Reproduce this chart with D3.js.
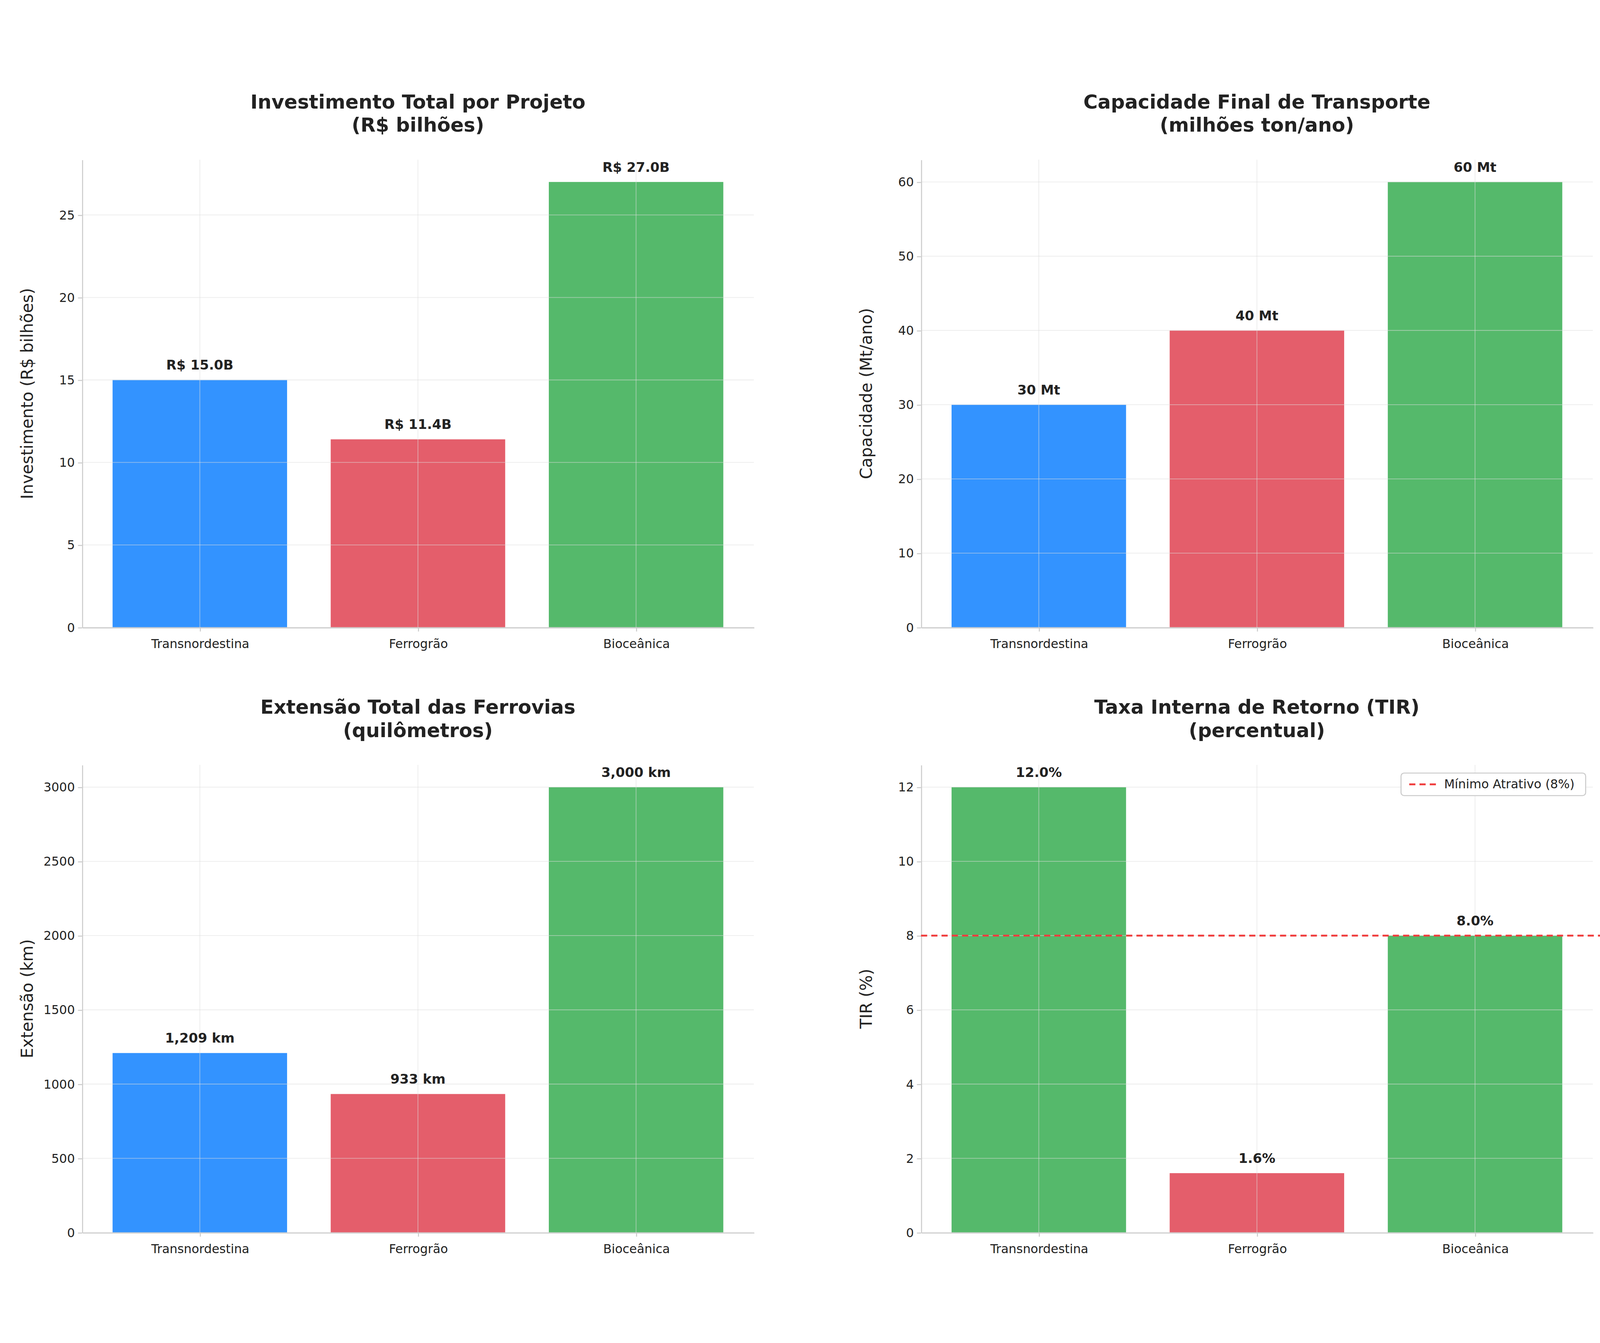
<!DOCTYPE html>
<html><head><meta charset="utf-8">
<script src="https://cdn.jsdelivr.net/npm/d3@7"></script>
<style>html,body{margin:0;width:100%;height:100%;overflow:hidden;background:#fff}svg{display:block}text{font-family:"DejaVu Sans",sans-serif;fill:#222}</style>
</head><body><svg id="chart"></svg>
<script>
const projects = ["Transnordestina", "Ferrogrão", "Bioceânica"];
const investment = [15.0, 11.4, 27.0];
const capacity = [30, 40, 60];
const lengthKm = [1209, 933, 3000];
const tir = [12.0, 1.6, 8.0];
const tirMin = 8;

const blue = "#3393ff", red = "#e45e6b", green = "#55b96b";

const panels = [
  { title: ["Investimento Total por Projeto", "(R$ bilhões)"], ylabel: "Investimento (R$ bilhões)",
    values: investment, ymax: 28.35, ticks: [0,5,10,15,20,25], colors: [blue, red, green],
    fmt: v => "R$ " + v.toFixed(1) + "B", x: 80, y: 80 },
  { title: ["Capacidade Final de Transporte", "(milhões ton/ano)"], ylabel: "Capacidade (Mt/ano)",
    values: capacity, ymax: 63, ticks: [0,10,20,30,40,50,60], colors: [blue, red, green],
    fmt: v => v + " Mt", x: 898, y: 80 },
  { title: ["Extensão Total das Ferrovias", "(quilômetros)"], ylabel: "Extensão (km)",
    values: lengthKm, ymax: 3150, ticks: [0,500,1000,1500,2000,2500,3000], colors: [blue, red, green],
    fmt: v => d3.format(",")(v) + " km", x: 80, y: 670 },
  { title: ["Taxa Interna de Retorno (TIR)", "(percentual)"], ylabel: "TIR (%)",
    values: tir, ymax: 12.6, ticks: [0,2,4,6,8,10,12], colors: tir.map(v => v >= tirMin ? green : red),
    fmt: v => v.toFixed(1) + "%", x: 898, y: 670, threshold: true }
];

const W = 1560, H = 1158, pw = 655, ph = 456;
const svg = d3.select("#chart").attr("width", "100%").attr("height", "100%")
  .attr("viewBox", `0 0 ${W} ${H}`);

panels.forEach(p => {
  const g = svg.append("g").attr("transform", `translate(${p.x},${p.y})`);
  const x = d3.scaleLinear().domain([-0.54, 2.54]).range([0, pw]);
  const y = d3.scaleLinear().domain([0, p.ymax]).range([ph, 0]);
  const bw = x(0.8) - x(0);

  g.selectAll("rect").data(p.values).join("rect")
    .attr("x", (d, i) => x(i - 0.4)).attr("width", bw)
    .attr("y", d => y(d)).attr("height", d => ph - y(d))
    .attr("fill", (d, i) => p.colors[i]);

  // grid
  g.selectAll(".hg").data(p.ticks).join("line").attr("class", "hg")
    .attr("x1", 0).attr("x2", pw).attr("y1", d => y(d)).attr("y2", d => y(d))
    .attr("stroke", "#ddd").attr("stroke-opacity", 0.5).attr("stroke-width", 0.8);
  g.selectAll(".vg").data(projects).join("line").attr("class", "vg")
    .attr("x1", (d, i) => x(i)).attr("x2", (d, i) => x(i)).attr("y1", 0).attr("y2", ph)
    .attr("stroke", "#ddd").attr("stroke-opacity", 0.5).attr("stroke-width", 0.8);

  const ax = g.append("g").attr("transform", `translate(0,${ph})`)
    .call(d3.axisBottom(x).tickValues([0,1,2]).tickFormat(i => projects[i]).tickSize(4).tickSizeOuter(0));
  const ay = g.append("g")
    .call(d3.axisLeft(y).tickValues(p.ticks).tickFormat(d3.format("d")).tickSize(4).tickSizeOuter(0));
  [ax, ay].forEach(a => {
    a.selectAll("path,line").attr("stroke", "#ccc");
    a.selectAll("text").style("font-size", "12px").attr("fill", "#222");
  });
  ax.selectAll("text").attr("dy", "1.1em");

  g.selectAll(".lbl").data(p.values).join("text").attr("class", "lbl")
    .attr("x", (d, i) => x(i)).attr("y", d => y(d) - 10)
    .attr("text-anchor", "middle").style("font-size", "13px").style("font-weight", "bold")
    .text(d => p.fmt(d));

  g.append("text").attr("transform", `translate(${-48},${ph/2}) rotate(-90)`)
    .attr("text-anchor", "middle").style("font-size", "16px").text(p.ylabel);

  const t = g.append("text").attr("x", pw/2).attr("y", -50).attr("text-anchor", "middle")
    .style("font-size", "19px").style("font-weight", "bold");
  p.title.forEach((s, i) => t.append("tspan").attr("x", pw/2).attr("dy", i ? "1.2em" : 0).text(s));

  if (p.threshold) {
    g.append("line").attr("x1", 0).attr("x2", pw + 10).attr("y1", y(tirMin)).attr("y2", y(tirMin))
      .attr("stroke", "#f03c3c").attr("stroke-width", 1.8).attr("stroke-dasharray", "6,4");
    const lg = g.append("g").attr("transform", `translate(${pw - 187},8)`);
    lg.append("rect").attr("width", 180).attr("height", 22).attr("rx", 3)
      .attr("fill", "#fff").attr("stroke", "#ccc");
    lg.append("line").attr("x1", 8).attr("x2", 34).attr("y1", 11).attr("y2", 11)
      .attr("stroke", "#f03c3c").attr("stroke-width", 1.8).attr("stroke-dasharray", "6,4");
    lg.append("text").attr("x", 42).attr("y", 15).style("font-size", "12px").text("Mínimo Atrativo (8%)");
  }
});
</script></body></html>
